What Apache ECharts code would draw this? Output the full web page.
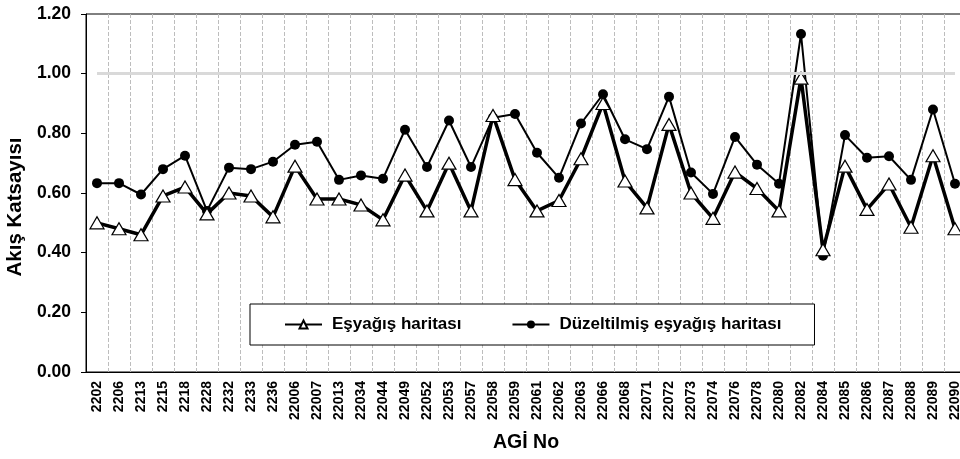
<!DOCTYPE html>
<html>
<head>
<meta charset="utf-8">
<script src="https://cdn.jsdelivr.net/npm/echarts@6/dist/echarts.min.js"></script>
<style>
  html, body { margin: 0; padding: 0; background: #fff; }
  #chart { width: 960px; height: 459px; }
</style>
</head>
<body>
<div id="chart"></div>
<script>
  // AGİ istasyonları
  const categories = ['2202', '2206', '2213', '2215', '2218', '2228', '2232', '2233', '2236', '22006',
    '22007', '22013', '22034', '22044', '22049', '22052', '22053', '22057', '22058', '22059',
    '22061', '22062', '22063', '22066', '22068', '22071', '22072', '22073', '22074', '22076',
    '22078', '22080', '22082', '22084', '22085', '22086', '22087', '22088', '22089', '22090']

  // Eşyağış haritası (üçgen)
  const esyagis = [0.50, 0.48, 0.46, 0.59, 0.62, 0.53, 0.60, 0.59, 0.52, 0.69,
    0.58, 0.58, 0.56, 0.51, 0.66, 0.54, 0.70, 0.54, 0.86, 0.645,
    0.54, 0.575, 0.715, 0.90, 0.64, 0.55, 0.83, 0.60, 0.515, 0.67,
    0.615, 0.54, 0.985, 0.41, 0.69, 0.545, 0.63, 0.485, 0.725, 0.48]

  // Düzeltilmiş eşyağış haritası (daire)
  const duzeltilmis = [0.633, 0.633, 0.595, 0.68, 0.725, 0.54, 0.685, 0.68, 0.705, 0.762,
    0.772, 0.644, 0.659, 0.648, 0.812, 0.687, 0.843, 0.687, 0.852, 0.865,
    0.735, 0.651, 0.833, 0.931, 0.78, 0.747, 0.923, 0.669, 0.597, 0.788,
    0.695, 0.631, 1.133, 0.39, 0.794, 0.718, 0.723, 0.644, 0.88, 0.631]

  const yTicks = [0, 0.2, 0.4, 0.6, 0.8, 1.0, 1.2]
  const refValue = 1.0

  const font = 'Liberation Sans, Arial, sans-serif'

  const chart = echarts.init(document.getElementById('chart'))
  chart.setOption({
    animation: false,
    backgroundColor: '#fff',
    grid: {
      left: 86,
      right: -6,
      top: 14,
      bottom: 87,
      outerBoundsMode: 'none',
      show: true,
      borderColor: '#000',
      borderWidth: 1
    },
    legend: {
      data: ['Eşyağış haritası', 'Düzeltilmiş eşyağış haritası'],
      left: 250,
      top: 304,
      padding: [12, 33, 12, 34],
      borderColor: '#000',
      borderWidth: 1,
      backgroundColor: '#fff',
      itemWidth: 37,
      itemHeight: 10,
      itemGap: 50,
      textStyle: {
        fontFamily: font,
        fontWeight: 'bold',
        fontSize: 17,
        color: '#000',
        padding: [0, 0, 0, 5]
      }
    },
    xAxis: {
      type: 'category',
      data: categories,
      boundaryGap: true,
      name: 'AGİ No',
      nameLocation: 'middle',
      nameGap: 61,
      nameTextStyle: {
        fontFamily: font,
        fontWeight: 'bold',
        fontSize: 19.5,
        color: '#000'
      },
      axisLine: { lineStyle: { color: '#000', width: 1 } },
      axisTick: { length: 5, lineStyle: { color: '#000' } },
      axisLabel: {
        interval: 0,
        rotate: 90,
        margin: 9,
        fontFamily: font,
        fontWeight: 'bold',
        fontSize: 14,
        color: '#000'
      },
      splitLine: {
        show: true,
        lineStyle: { color: '#bdbdbd', type: 'dashed', width: 1 }
      }
    },
    yAxis: {
      type: 'value',
      min: yTicks[0],
      max: yTicks[yTicks.length - 1],
      interval: 0.2,
      name: 'Akış Katsayısı',
      nameLocation: 'middle',
      nameGap: 52,
      nameTextStyle: {
        fontFamily: font,
        fontWeight: 'bold',
        fontSize: 20.5,
        color: '#000',
        padding: [0, 28, 0, 0]
      },
      axisLine: { show: true, lineStyle: { color: '#000', width: 1 } },
      axisTick: { show: true, length: 5, lineStyle: { color: '#000' } },
      axisLabel: {
        margin: 15,
        fontFamily: font,
        fontWeight: 'bold',
        fontSize: 17.5,
        color: '#000',
        formatter: v => v.toFixed(2)
      },
      splitLine: { show: false }
    },
    series: [
      {
        // 1.00 referans çizgisi
        name: 'ref',
        type: 'line',
        data: [],
        z: 1,
        silent: true,
        markLine: {
          silent: true,
          symbol: 'none',
          label: { show: false },
          lineStyle: { color: '#d9d9d9', width: 3, type: 'solid' },
          data: [[
            { coord: [categories[0], refValue] },
            { coord: [categories[categories.length - 1], refValue] }
          ]]
        }
      },
      {
        name: 'Düzeltilmiş eşyağış haritası',
        type: 'line',
        data: duzeltilmis,
        z: 3,
        symbol: 'circle',
        symbolSize: 10,
        lineStyle: { color: '#000', width: 2 },
        itemStyle: { color: '#000', borderColor: '#000', borderWidth: 0 }
      },
      {
        name: 'Eşyağış haritası',
        type: 'line',
        data: esyagis,
        z: 4,
        symbol: 'triangle',
        symbolSize: [14, 12],
        lineStyle: { color: '#000', width: 3.5 },
        itemStyle: { color: '#fff', borderColor: '#000', borderWidth: 1.2 }
      }
    ]
  })
</script>
</body>
</html>
